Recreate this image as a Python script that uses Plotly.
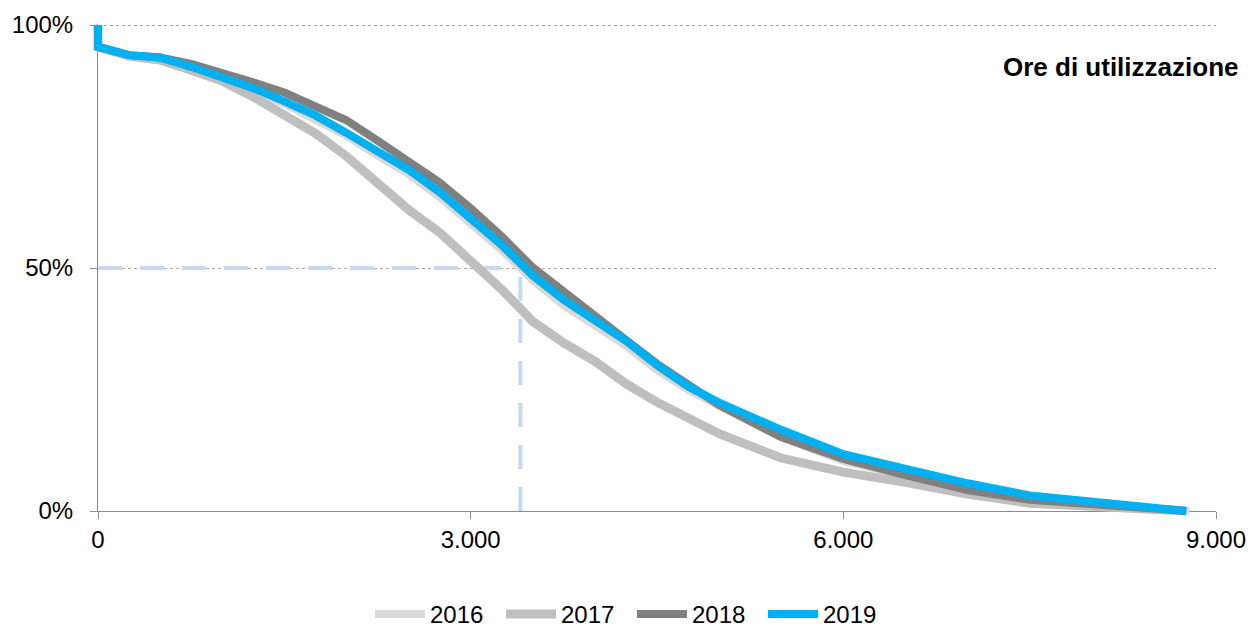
import plotly.graph_objects as go

# ---------------- data ----------------
hours = [0, 0, 250, 500, 750, 1000, 1250, 1500, 1750, 2000, 2250, 2500, 2750, 3000,
         3250, 3500, 3750, 4000, 4250, 4500, 4750, 5000, 5500, 6000, 6500, 7000,
         7500, 8000, 8500, 8760]
hours_2016 = hours[:-1] + [8784]

y2016 = [100, 95.5, 93.8, 93.2, 91.2, 89.1, 86.6, 83.8, 80.7, 77.2, 73.2, 69.3, 64.6, 59.3,
         53.7, 47.5, 42.3, 38.2, 34.0, 29.0, 25.0, 21.6, 15.2, 10.3, 7.2, 4.6,
         2.6, 1.3, 0.5, 0]
y2017 = [100, 95.5, 93.6, 92.8, 90.7, 88.5, 85.2, 81.6, 77.7, 73.0, 67.2, 62.0, 57.3, 51.7,
         45.6, 39.0, 34.6, 30.8, 26.2, 22.4, 19.3, 15.9, 10.9, 8.0, 5.9, 3.5,
         1.6, 0.8, 0.3, 0]
y2018 = [100, 95.5, 93.8, 93.3, 92.0, 90.2, 88.2, 86.1, 83.4, 80.4, 76.2, 72.0, 67.6, 62.3,
         56.5, 50.1, 45.0, 40.0, 35.2, 30.3, 26.2, 21.8, 15.2, 10.7, 7.4, 4.3,
         2.3, 1.2, 0.5, 0]
y2019 = [100, 95.5, 93.8, 93.3, 91.4, 89.4, 87.0, 84.3, 81.4, 77.8, 74.0, 70.2, 65.6, 60.3,
         54.7, 48.4, 43.4, 39.2, 35.0, 30.0, 25.6, 22.3, 16.7, 11.7, 8.6, 5.7,
         3.2, 1.9, 0.9, 0]

series_names = ["2016", "2017", "2018", "2019"]
median_hours = 3400
median_level = 50

x_tickvals = [0, 3000, 6000, 9000]
x_ticktext = ["0", "3.000", "6.000", "9.000"]
y_tickvals = [0, 50, 100]
y_ticktext = ["0%", "50%", "100%"]
x_range = [0, 9000]
y_range = [0, 100]

# ---------------- layout geometry (pixels) ----------------
W, H = 1248, 632
PL, PR, PT, PB = 98, 1216, 25, 511   # plot area edges
PAD = 10                             # extra room so thick lines are not clipped
plot_w = PR - PL
plot_h = PB - PT
dx = (x_range[1] - x_range[0]) * PAD / plot_w
dy = (y_range[1] - y_range[0]) * PAD / plot_h
EPS_PX = 1.5                          # keep the top gridline inside the range
eps_y = (y_range[1] - y_range[0]) * EPS_PX / plot_h


def fx(px):
    return px / W


def fy(py):
    return (H - py) / H


FONT = "Liberation Sans, Arial, sans-serif"
colors = ["#D9D9D9", "#BFBFBF", "#808080", "#00B0F0"]
widths = [8, 9, 8, 8]
AXC = "#8C8C8C"

fig = go.Figure()

# invisible trace so the visible axes are created
fig.add_trace(go.Scatter(x=[x_range[0]], y=[y_range[0]], mode="markers",
                         marker=dict(opacity=0), showlegend=False, hoverinfo="skip"))

# median reference lines
ref_line = dict(color="#C6D9F1", width=4, dash="24px,18px")
fig.add_trace(go.Scatter(x=[x_range[0], median_hours], y=[median_level, median_level],
                         mode="lines", xaxis="x2", yaxis="y2", showlegend=False,
                         line=ref_line, hoverinfo="skip"))
fig.add_trace(go.Scatter(x=[median_hours, median_hours], y=[y_range[0], median_level],
                         mode="lines", xaxis="x2", yaxis="y2", showlegend=False,
                         line=ref_line, hoverinfo="skip"))

for name, xs, ys, c, w in zip(series_names, [hours_2016, hours, hours, hours],
                              [y2016, y2017, y2018, y2019], colors, widths):
    fig.add_trace(go.Scatter(x=xs, y=ys, name=name, mode="lines",
                             xaxis="x2", yaxis="y2",
                             line=dict(color=c, width=w)))

axis_font = dict(family=FONT, size=24, color="#000000")

fig.update_layout(
    template="none",
    width=W, height=H,
    margin=dict(l=0, r=0, t=0, b=0, autoexpand=False),
    paper_bgcolor="white", plot_bgcolor="rgba(0,0,0,0)",
    font=dict(family=FONT, size=24, color="#000000"),
    xaxis=dict(domain=[fx(PL), fx(PR)], range=x_range, showgrid=False, zeroline=False,
               showline=True, linecolor=AXC, linewidth=1, ticks="outside", ticklen=7,
               tickcolor=AXC, tickvals=x_tickvals, ticktext=x_ticktext,
               tickfont=axis_font, anchor="y", automargin=False),
    yaxis=dict(domain=[fy(PB), fy(PT - EPS_PX)], range=[y_range[0], y_range[1] + eps_y],
               showgrid=True, gridcolor="#A6A6A6",
               griddash="dot", gridwidth=1, zeroline=False,
               showline=True, linecolor=AXC, linewidth=1, ticks="outside", ticklen=7,
               tickcolor=AXC, tickvals=y_tickvals, ticktext=y_ticktext,
               tickfont=axis_font, anchor="x", ticklabelstandoff=12, automargin=False),
    xaxis2=dict(domain=[fx(PL - PAD), fx(PR + PAD)],
                range=[x_range[0] - dx, x_range[1] + dx], visible=False, anchor="y2"),
    yaxis2=dict(domain=[fy(PB + PAD), fy(PT - PAD)],
                range=[y_range[0] - dy, y_range[1] + dy], visible=False, anchor="x2"),
    legend=dict(orientation="h", x=fx(632), xanchor="center",
                y=fy(637), yanchor="bottom", bgcolor="rgba(0,0,0,0)",
                font=dict(family=FONT, size=24), entrywidth=66, entrywidthmode="pixels",
                itemwidth=50),
    showlegend=True,
)

fig.add_annotation(text="<b>Ore di utilizzazione</b>", xref="paper", yref="paper",
                   x=fx(1240), y=fy(67), xanchor="right", yanchor="middle",
                   showarrow=False, font=dict(family=FONT, size=26, color="#000000"))

fig.write_html("out.html", config={"displayModeBar": False},
               post_script="document.body.style.margin='0';")
